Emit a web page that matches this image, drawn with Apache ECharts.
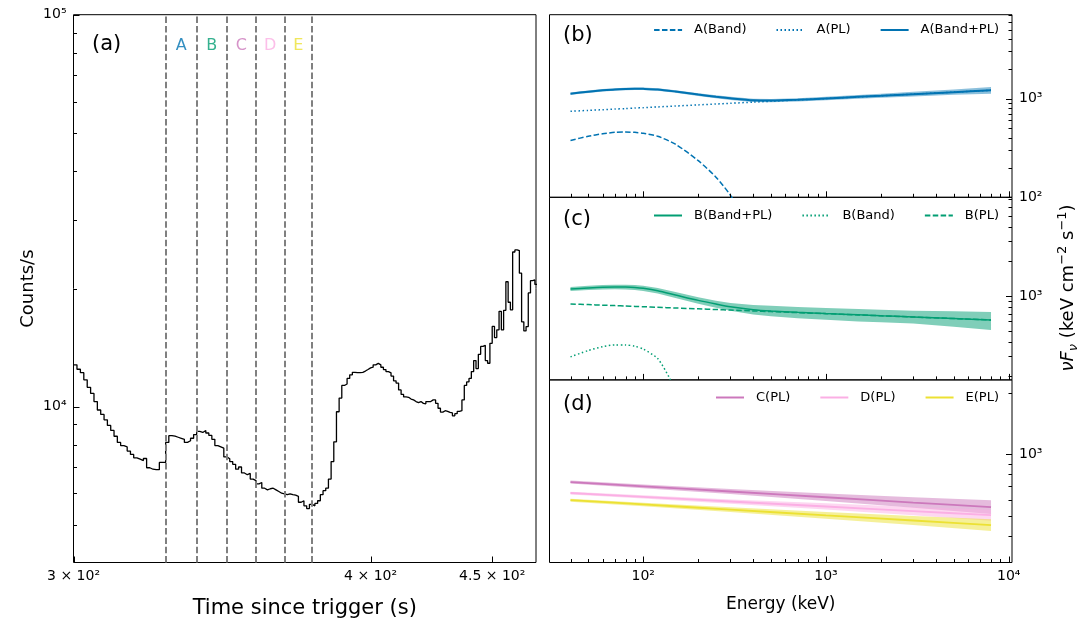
<!DOCTYPE html>
<html>
<head>
<meta charset="utf-8">
<title>Light curve and spectra</title>
<script src="https://cdn.jsdelivr.net/npm/echarts@6.0.0/dist/echarts.min.js"></script>
<style>
html, body { margin: 0; padding: 0; background: #fff; }
#main { width: 1081px; height: 625px; }
</style>
</head>
<body>
<div id="main"></div>
<script>
// ---- panel (a): light curve, 1 s bins starting at lcStart
var lcStart = 300;
var lcCounts = [
  12780, 12450, 12200, 11700, 11200, 10800, 10300, 9800, 9550, 9250,
  8950, 8690, 8400, 8100, 7950, 7890, 7700, 7550, 7400, 7340,
  7280, 7370, 6980, 6920, 6900, 6900, 7200, 7200, 8100, 8430,
  8400, 8350, 8300, 8250, 8100, 8180, 8300, 8480, 8640, 8590,
  8690, 8560, 8440, 8250, 7950, 7890, 7830, 7440, 7360, 7240,
  7120, 6920, 7010, 6770, 6700, 6750, 6530, 6470, 6350, 6400,
  6190, 6130, 6170, 6190, 6130, 6070, 6010, 5990, 5960, 5990,
  5960, 5940, 5900, 5700, 5750, 5580, 5490, 5630, 5580, 5660,
  5750, 5960, 6100, 6190, 6530, 7240, 8130, 9700, 10510, 11320,
  11420, 11800, 12050, 12230, 12200, 12200, 12230, 12320, 12430, 12550,
  12600, 12780, 12890, 12780, 12600, 12430, 12280, 12190, 11960, 11630,
  11480, 11030, 10740, 10580, 10560, 10450, 10400, 10300, 10240, 10300,
  10190, 10160, 10300, 10300, 10400, 10400, 10190, 9900, 9680, 9760,
  9720, 9660, 9630, 9470, 9590, 9720, 9760, 10400, 11320, 11560,
  11800, 12280, 13100, 12500, 13590, 14240, 14330, 13100, 12900, 14500,
  16010, 15000, 15700, 17500, 15700, 17600, 20820, 18460, 17650, 24800,
  25110, 25000, 21900, 16450, 15600, 16000, 19500, 20950, 21050, 20500
];
var intervalEdges = [328, 338, 348, 358, 368, 378];
var intervalNames = ['A', 'B', 'C', 'D', 'E'];
var intervalColors = ['#0173b2', '#029e73', '#cc78bc', '#fbafe4', '#ece133'];

// ---- panels (b)-(d): nuFnu spectra (keV cm^-2 s^-1) vs energy (keV)
var energy = [40, 50, 60, 70, 80, 90, 100, 120, 150, 200, 250, 300, 400, 500, 700, 1000, 1500, 2000, 3000, 5000, 8000];
var aBandPL   = [1120, 1174, 1211, 1238, 1250, 1256, 1254, 1238, 1180, 1098, 1041, 1005, 960, 955, 972, 1003, 1041, 1068, 1109, 1162, 1214];
var aBandPLLo = [1090, 1140, 1176, 1202, 1214, 1220, 1218, 1202, 1145, 1063, 1005, 968, 925, 920, 935, 963, 995, 1018, 1050, 1090, 1122];
var aBandPLHi = [1152, 1208, 1247, 1275, 1287, 1293, 1291, 1275, 1215, 1133, 1078, 1042, 995, 990, 1010, 1043, 1088, 1120, 1170, 1238, 1312];
var aPL       = [743, 759, 771, 783, 792, 801, 809, 823, 840, 863, 881, 896, 920, 939, 969, 1001, 1040, 1068, 1109, 1162, 1214];
var energyBandA = [40, 50, 60, 70, 80, 90, 100, 120, 150, 200, 250, 300, 350];
var aBand       = [377, 415, 440, 455, 458, 455, 445, 415, 345, 235, 160, 105, 65];

var bBandPL   = [1150, 1175, 1192, 1198, 1195, 1185, 1165, 1110, 1020, 915, 850, 805, 760, 740, 720, 702, 685, 673, 657, 637, 618];
var bBandPLLo = [1105, 1126, 1140, 1143, 1138, 1126, 1105, 1050, 960, 855, 790, 745, 690, 665, 640, 620, 600, 590, 575, 540, 505];
var bBandPLHi = [1196, 1224, 1245, 1253, 1252, 1244, 1225, 1170, 1080, 975, 910, 870, 835, 820, 800, 785, 770, 760, 745, 735, 725];
var bPL       = [852, 841, 831, 824, 817, 811, 806, 797, 786, 773, 762, 754, 741, 731, 716, 701, 684, 672, 656, 636, 618];
var energyBandB = [40, 50, 60, 70, 80, 90, 100, 120, 140, 160];
var bBand       = [295, 335, 362, 375, 375, 365, 345, 285, 190, 120];

var energyPL = [40, 100, 300, 1000, 3000, 8000];
var cPL   = [733, 698, 659, 618, 582, 553];
var cPLLo = [720, 684, 640, 592, 549, 512];
var cPLHi = [746, 712, 678, 645, 617, 597];
var dPL   = [648, 621, 589, 557, 529, 505];
var dPLLo = [638, 610, 575, 538, 505, 475];
var dPLHi = [658, 632, 603, 577, 554, 537];
var ePL   = [598, 570, 538, 504, 476, 452];
var ePLLo = [588, 559, 524, 486, 452, 423];
var ePLHi = [608, 581, 552, 523, 501, 483];

// ---- axis ranges and tick positions
var tRange = [299.99, 469.5];
var cRangeLc = [4000, 100000];
var eRange = [30.7, 10420];
var bRange = [100, 7070], cRange = [186, 7220], dRange = [297, 2307];
var timeTicks = [300, 400, 450];
var energyTicks = [100, 1000, 10000];
var energyMinor = [40, 50, 60, 70, 80, 90, 200, 300, 400, 500, 600, 700, 800, 900, 2000, 3000, 4000, 5000, 6000, 7000, 8000, 9000];
var countTicks = [10000, 100000];
var countMinor = [5000, 6000, 7000, 8000, 9000, 20000, 30000, 40000, 50000, 60000, 70000, 80000, 90000];
var fluxMinor = [200, 300, 400, 500, 600, 700, 800, 900, 2000, 3000, 4000, 5000, 6000, 7000];
var fluxMinorD = [300, 400, 500, 600, 700, 800, 900, 2000];

var font = 'DejaVu Sans';
var SUP = {'2': '\u00b2', '3': '\u00b3', '4': '\u2074', '5': '\u2075'};
function powLabel(v) { return '10' + SUP[String(Math.round(Math.log10(v)))]; }
function timeLabel(v) { return (+(v / 100).toFixed(2)) + ' \u00d7 10\u00b2'; }

function logAxis(gridIndex, range, labels, fmt, pos) {
  return {
    type: 'log', logBase: 10, gridIndex: gridIndex, min: range[0], max: range[1], position: pos,
    axisLine: {show: false}, splitLine: {show: false}, axisTick: {show: false},
    axisLabel: labels ? {show: true, customValues: labels, formatter: fmt, color: '#000',
                         fontSize: 14, fontFamily: font, margin: 7} : {show: false}
  };
}

function pairs(xs, ys) { return xs.map(function (x, i) { return [x, ys[i]]; }); }

function bandSeries(xIdx, yIdx, xs, lo, hi, color, alpha) {
  return {
    type: 'custom', xAxisIndex: xIdx, yAxisIndex: yIdx, silent: true, z: 1,
    data: [[xs[0], lo[0]]],
    renderItem: function (params, api) {
      var pts = [];
      for (var i = 0; i < xs.length; i++) pts.push(api.coord([xs[i], hi[i]]));
      for (var j = xs.length - 1; j >= 0; j--) pts.push(api.coord([xs[j], lo[j]]));
      return {type: 'polygon', shape: {points: pts}, style: {fill: color, opacity: alpha}};
    }
  };
}

function lineSeries(name, xIdx, yIdx, xs, ys, color, width, type) {
  return {
    name: name, type: 'line', xAxisIndex: xIdx, yAxisIndex: yIdx, data: pairs(xs, ys),
    symbol: 'none', smooth: 0.25, z: 3,
    lineStyle: {color: color, width: width, type: type}, itemStyle: {color: color}
  };
}

function legendFor(names, top) {
  return {
    data: names, right: 82, top: top, padding: 0, itemWidth: 28, itemHeight: 10, itemGap: 29,
    selectedMode: false, itemStyle: {opacity: 0},
    textStyle: {fontSize: 13, color: '#000', fontFamily: font, padding: [0, 0, 0, 7]}
  };
}

var lcData = lcCounts.map(function (c, i) { return [lcStart + i, c]; });
lcData.push([lcStart + lcCounts.length, lcCounts[lcCounts.length - 1]]);

var letterData = intervalNames.map(function (n, i) {
  return {name: n, value: [Math.sqrt(intervalEdges[i] * intervalEdges[i + 1]), 83500],
          label: {color: intervalColors[i]}};
});

var grids = [
  {left: 73.5, top: 14.7, width: 462.5, height: 547.8},
  {left: 549.5, top: 14.7, width: 462.5, height: 182.6},
  {left: 549.5, top: 197.3, width: 462.5, height: 182.6},
  {left: 549.5, top: 379.9, width: 462.5, height: 182.6}
];
grids.forEach(function (g) { g.show = true; g.borderColor = '#000'; g.borderWidth = 1; g.backgroundColor = 'transparent'; });
var xRanges = [tRange, eRange, eRange, eRange];
var yRanges = [cRangeLc, bRange, cRange, dRange];

var xTime = logAxis(0, tRange, timeTicks, timeLabel, 'bottom');
xTime.name = 'Time since trigger (s)';
xTime.nameLocation = 'middle';
xTime.nameGap = 36;
xTime.nameTextStyle = {fontSize: 21, color: '#000', fontFamily: font};

var xEnergy = logAxis(3, eRange, energyTicks, powLabel, 'bottom');
xEnergy.name = 'Energy (keV)';
xEnergy.nameLocation = 'middle';
xEnergy.nameGap = 34;
xEnergy.nameTextStyle = {fontSize: 17, color: '#000', fontFamily: font};

var yCounts = logAxis(0, cRangeLc, countTicks, powLabel, 'left');
yCounts.name = 'Counts/s';
yCounts.nameLocation = 'middle';
yCounts.nameGap = 36;
yCounts.nameTextStyle = {fontSize: 18, color: '#000', fontFamily: font};

var graphics = [
  {type: 'text', x: 92, y: 45, style: {text: '(a)', font: '21px "DejaVu Sans"', fill: '#000', verticalAlign: 'middle'}},
  {type: 'text', x: 563, y: 36, style: {text: '(b)', font: '21px "DejaVu Sans"', fill: '#000', verticalAlign: 'middle'}},
  {type: 'text', x: 563, y: 220, style: {text: '(c)', font: '21px "DejaVu Sans"', fill: '#000', verticalAlign: 'middle'}},
  {type: 'text', x: 563, y: 405, style: {text: '(d)', font: '21px "DejaVu Sans"', fill: '#000', verticalAlign: 'middle'}},
  {type: 'text', x: 1068, y: 288, rotation: Math.PI / 2,
   style: {
     text: '{i|\u03bdF}{s|\u03bd}{n| (keV cm}{p|\u22122}{n| s}{p|\u22121}{n|)}',
     align: 'center', verticalAlign: 'middle',
     rich: {
       i: {fontSize: 18, fontStyle: 'italic', fontFamily: font, fill: '#000', lineHeight: 24},
       s: {fontSize: 13, fontStyle: 'italic', fontFamily: font, fill: '#000', lineHeight: 24, verticalAlign: 'bottom'},
       n: {fontSize: 18, fontFamily: font, fill: '#000', lineHeight: 24},
       p: {fontSize: 13, fontFamily: font, fill: '#000', lineHeight: 24, verticalAlign: 'top'}
     }
   }}
];

var option = {
  animation: false,
  backgroundColor: '#fff',
  textStyle: {fontFamily: font, color: '#000'},
  grid: grids,
  xAxis: [
    xTime,
    logAxis(1, eRange, null, null, 'bottom'),
    logAxis(2, eRange, null, null, 'bottom'),
    xEnergy
  ],
  yAxis: [
    yCounts,
    logAxis(1, bRange, [100, 1000], powLabel, 'right'),
    logAxis(2, cRange, [1000], powLabel, 'right'),
    logAxis(3, dRange, [1000], powLabel, 'right')
  ],
  legend: [
    legendFor(['A(Band)', 'A(PL)', 'A(Band+PL)'], 23.5),
    legendFor(['B(Band+PL)', 'B(Band)', 'B(PL)'], 209),
    legendFor(['C(PL)', 'D(PL)', 'E(PL)'], 391)
  ],
  graphic: graphics,
  series: [
    {
      name: 'light curve', type: 'line', xAxisIndex: 0, yAxisIndex: 0, data: lcData,
      step: 'end', symbol: 'none', z: 3,
      lineStyle: {color: '#000', width: 1.3},
      markLine: {
        silent: true, symbol: 'none', label: {show: false},
        lineStyle: {color: '#808080', width: 2, type: [6.5, 2.8]},
        data: intervalEdges.map(function (t) { return {xAxis: t}; })
      }
    },
    {
      type: 'scatter', xAxisIndex: 0, yAxisIndex: 0, data: letterData, symbolSize: 1, silent: true,
      itemStyle: {color: 'transparent'},
      label: {show: true, position: 'inside', formatter: '{b}', fontSize: 16, fontFamily: font}
    },
    bandSeries(1, 1, energy, aBandPLLo, aBandPLHi, '#0173b2', 0.45),
    lineSeries('A(Band)', 1, 1, energyBandA, aBand, '#0173b2', 1.5, [5.5, 2.4]),
    lineSeries('A(PL)', 1, 1, energy, aPL, '#0173b2', 1.5, [1.5, 2.5]),
    lineSeries('A(Band+PL)', 1, 1, energy, aBandPL, '#0173b2', 2, 'solid'),
    bandSeries(2, 2, energy, bBandPLLo, bBandPLHi, '#029e73', 0.5),
    lineSeries('B(Band+PL)', 2, 2, energy, bBandPL, '#029e73', 1.5, 'solid'),
    lineSeries('B(Band)', 2, 2, energyBandB, bBand, '#029e73', 1.5, [1.5, 2.5]),
    lineSeries('B(PL)', 2, 2, energy, bPL, '#029e73', 1.5, [5.5, 2.4]),
    bandSeries(3, 3, energyPL, cPLLo, cPLHi, '#cc78bc', 0.5),
    bandSeries(3, 3, energyPL, dPLLo, dPLHi, '#fbafe4', 0.5),
    bandSeries(3, 3, energyPL, ePLLo, ePLHi, '#ece133', 0.5),
    lineSeries('C(PL)', 3, 3, energyPL, cPL, '#cc78bc', 1.8, 'solid'),
    lineSeries('D(PL)', 3, 3, energyPL, dPL, '#fbafe4', 1.8, 'solid'),
    lineSeries('E(PL)', 3, 3, energyPL, ePL, '#ece133', 1.8, 'solid')
  ]
};

var chart = echarts.init(document.getElementById('main'));
chart.setOption(option);

// pixel position of a value along one axis of grid idx (anchored inside the grid)
function axisPixel(idx, value, isX) {
  var g = grids[idx], xr = xRanges[idx], yr = yRanges[idx];
  var midX = Math.sqrt(xr[0] * xr[1]), midY = Math.sqrt(yr[0] * yr[1]);
  var p = chart.convertToPixel({xAxisIndex: idx, yAxisIndex: idx}, isX ? [value, midY] : [midX, value]);
  var c = p ? (isX ? p[0] : p[1]) : NaN;
  var lo = isX ? g.left : g.top, hi = isX ? g.left + g.width : g.top + g.height;
  if (!isFinite(c) || c < lo - 1 || c > hi + 1) {
    var r = isX ? xr : yr;
    var f = (Math.log10(value) - Math.log10(r[0])) / (Math.log10(r[1]) - Math.log10(r[0]));
    c = isX ? g.left + f * g.width : g.top + g.height - f * g.height;
  }
  return c;
}

// inward tick marks
function tickLines(idx, values, side, len) {
  var g = grids[idx];
  return values.map(function (v) {
    var x1, y1, x2, y2, c;
    if (side === 'bottom') {
      c = Math.round(axisPixel(idx, v, true)) + 0.5;
      x1 = x2 = c; y1 = g.top + g.height; y2 = y1 - len;
    } else {
      c = Math.round(axisPixel(idx, v, false)) + 0.5;
      y1 = y2 = c;
      x1 = side === 'left' ? g.left : g.left + g.width;
      x2 = side === 'left' ? x1 + len : x1 - len;
    }
    return {type: 'line', silent: true, z: 100,
            shape: {x1: x1, y1: y1, x2: x2, y2: y2}, style: {stroke: '#000', lineWidth: 1}};
  });
}

var tickEls = [].concat(
  tickLines(0, timeTicks, 'bottom', 6),
  tickLines(0, countTicks, 'left', 6),
  tickLines(0, countMinor, 'left', 3.5),
  tickLines(1, [100, 1000], 'right', 6),
  tickLines(1, fluxMinor, 'right', 3.5),
  tickLines(2, [1000], 'right', 6),
  tickLines(2, fluxMinor, 'right', 3.5),
  tickLines(3, [1000], 'right', 6),
  tickLines(3, fluxMinorD, 'right', 3.5),
  tickLines(1, energyTicks, 'bottom', 6),
  tickLines(1, energyMinor, 'bottom', 3.5),
  tickLines(2, energyTicks, 'bottom', 6),
  tickLines(2, energyMinor, 'bottom', 3.5),
  tickLines(3, energyTicks, 'bottom', 6),
  tickLines(3, energyMinor, 'bottom', 3.5)
);
chart.setOption({graphic: graphics.concat(tickEls)});
window.addEventListener('resize', function () { chart.resize(); });
</script>
</body>
</html>
